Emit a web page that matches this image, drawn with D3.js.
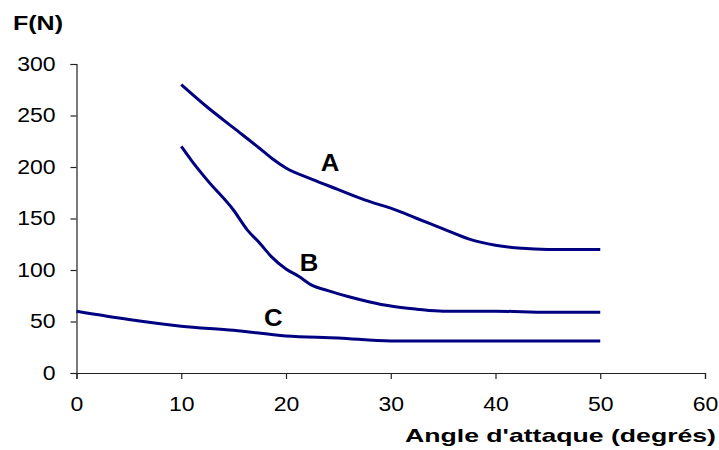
<!DOCTYPE html>
<html>
<head>
<meta charset="utf-8">
<script src="https://cdn.jsdelivr.net/npm/d3@7"></script>
<style>
  html, body { margin: 0; padding: 0; background: #fff; }
  svg { display: block; }
  text { font-family: "Liberation Sans", Arial, sans-serif; fill: #000; }
</style>
</head>
<body>
<svg id="chart" width="719" height="450"></svg>
<script>
// ---- data ----
const xTicks = [0, 10, 20, 30, 40, 50, 60];
const yTicks = [0, 50, 100, 150, 200, 250, 300];
const seriesNames = ["A", "B", "C"];
const seriesA = [[10,280],[12.5,258],[15,238],[17.5,218],[18.7,208],[20,199],[22.5,188],[25,178],[27.5,168],[30,160],[32.5,150],[35,140],[37.5,130],[40,124],[42.5,121],[45,120],[50,120]];
const seriesB = [[10,220],[11,206],[12.5,187],[15,158],[16.3,139],[17.5,126],[18.6,113],[20,101],[21.2,94],[22.5,85],[24,80],[26,74],[28,69],[30,65],[32.5,62],[35,60],[40,60],[45,59],[50,59]];
const seriesC = [[0,60],[5,52],[10,45.5],[15,41.5],[20,36],[25,34],[30,31],[40,31],[50,31]];
const labelPos = [[24.2,196],[22.2,99],[18.8,46]]; // label anchor in data units
const yTitle = "F(N)";
const xTitle = "Angle d'attaque (degrés)";

const svg = d3.select("#chart");
const x = d3.scaleLinear().domain([0, 60]).range([76.5, 705]);
const y = d3.scaleLinear().domain([0, 300]).range([373, 64]);

// axes
const gx = svg.append("g").attr("transform", `translate(0,${y(0)})`)
  .call(d3.axisBottom(x).tickValues(xTicks).tickSizeOuter(0).tickSize(6).tickPadding(18).tickFormat(d3.format("d")));
const gy = svg.append("g").attr("transform", `translate(${x(0)},0)`)
  .call(d3.axisLeft(y).tickValues(yTicks).tickSizeOuter(0).tickSize(6).tickPadding(15).tickFormat(d3.format("d")));
[gx, gy].forEach(g => {
  g.select(".domain").attr("stroke", "#222").attr("stroke-width", 1.2);
  g.selectAll(".tick line").attr("stroke", "#222").attr("stroke-width", 1.2);
  g.selectAll(".tick text").attr("font-size", 20).attr("font-family", "Liberation Sans, Arial, sans-serif").attr("fill", "#000");
});
// stretch tick labels horizontally like the reference
[gx, gy].forEach(g => g.selectAll(".tick text").each(function() {
  const w = this.getComputedTextLength();
  d3.select(this).attr("textLength", w * 1.15).attr("lengthAdjust", "spacingAndGlyphs");
}));

// lines
const line = d3.line().x(d => x(d[0])).y(d => y(d[1])).curve(d3.curveMonotoneX);
[seriesA, seriesB, seriesC].forEach(s => {
  svg.append("path").datum(s).attr("d", line)
    .attr("fill", "none").attr("stroke", "#000080").attr("stroke-width", 3)
    .attr("stroke-linejoin", "round").attr("stroke-linecap", "butt");
});

// series labels
seriesNames.forEach((n, i) => {
  const t = svg.append("text").text(n)
    .attr("x", x(labelPos[i][0])).attr("y", y(labelPos[i][1]))
    .attr("text-anchor", "middle").attr("font-weight", "bold").attr("font-size", 23);
  const w = t.node().getComputedTextLength();
  t.attr("textLength", w * 1.12).attr("lengthAdjust", "spacingAndGlyphs");
});

// titles
svg.append("text").text(yTitle).attr("x", 13).attr("y", 30)
  .attr("font-weight", "bold").attr("font-size", 20)
  .attr("textLength", 50).attr("lengthAdjust", "spacingAndGlyphs");
svg.append("text").text(xTitle).attr("x", 405).attr("y", 442)
  .attr("font-weight", "bold").attr("font-size", 19)
  .attr("textLength", 311).attr("lengthAdjust", "spacingAndGlyphs");
</script>
</body>
</html>
